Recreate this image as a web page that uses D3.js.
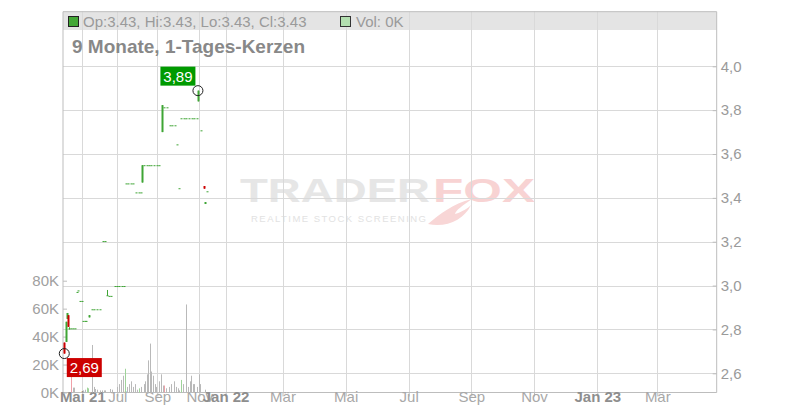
<!DOCTYPE html>
<html><head><meta charset="utf-8">
<script src="https://cdn.jsdelivr.net/npm/d3@7"></script>
<style>
html,body{margin:0;padding:0;background:#fff;}
svg{display:block;font-family:"Liberation Sans",Arial,sans-serif;}
</style>
</head><body>
<svg id="chart" width="800" height="420"></svg>
<script>
// ---------- data ----------
const candleDates = ["2021-04-03","2021-04-05","2021-04-07","2021-04-09","2021-04-11","2021-04-13","2021-04-16","2021-04-20",
  "2021-04-23","2021-04-25","2021-04-27","2021-04-30","2021-05-03","2021-05-05","2021-05-07","2021-05-12",
  "2021-05-18","2021-05-22","2021-05-27","2021-05-31","2021-06-06","2021-06-09","2021-06-13","2021-06-17","2021-06-20",
  "2021-06-27","2021-07-01","2021-07-04","2021-07-08","2021-07-11","2021-07-14","2021-07-18","2021-07-22","2021-07-26",
  "2021-07-30","2021-08-03","2021-08-06","2021-08-09","2021-08-12","2021-08-16","2021-08-19","2021-08-23","2021-08-27",
  "2021-08-31","2021-09-04","2021-09-08","2021-09-11","2021-09-15","2021-09-19","2021-09-23","2021-09-27","2021-09-29",
  "2021-10-02","2021-10-06","2021-10-10","2021-10-13","2021-10-17","2021-10-21","2021-10-24","2021-10-28","2021-10-30",
  "2021-11-06","2021-11-12","2021-11-15","2021-11-19"];
const opens  = [2.74,2.743,2.848,2.865,2.80,2.805,2.805,2.805, 2.971,2.978,2.93,2.93,2.839,2.839,2.839,2.855,
  2.892,2.892,2.892,2.892,3.203,3.203,2.953,2.953,2.953, 2.998,2.998,2.998,2.998,2.998,3.466,3.466,3.466,3.466,
  3.425,3.425,3.425,3.47,3.549,3.549,3.549,3.549,3.549, 3.549,3.549,3.70,3.813,3.813,3.731,3.731,3.731,3.644,
  3.444,3.763,3.763,3.763,3.763,3.763,3.763,3.763,3.84, 3.708,3.454,3.372,3.43];
const highs  = [2.74,2.835,2.875,2.865,2.81,2.805,2.805,2.805, 2.971,2.978,2.93,2.93,2.839,2.839,2.839,2.865,
  2.892,2.892,2.892,2.892,3.203,3.203,2.98,2.953,2.953, 2.998,2.998,2.998,2.998,2.998,3.466,3.466,3.466,3.466,
  3.425,3.425,3.425,3.549,3.549,3.549,3.549,3.549,3.549, 3.549,3.549,3.823,3.813,3.813,3.731,3.731,3.731,3.644,
  3.444,3.763,3.763,3.763,3.763,3.763,3.763,3.763,3.889, 3.708,3.454,3.381,3.43];
const lows   = [2.69,2.743,2.848,2.812,2.80,2.805,2.805,2.805, 2.971,2.978,2.93,2.93,2.839,2.839,2.839,2.855,
  2.892,2.892,2.892,2.892,3.203,3.203,2.953,2.953,2.953, 2.998,2.998,2.998,2.998,2.998,3.466,3.466,3.466,3.466,
  3.425,3.425,3.425,3.47,3.549,3.549,3.549,3.549,3.549, 3.549,3.549,3.70,3.813,3.813,3.731,3.731,3.731,3.644,
  3.444,3.763,3.763,3.763,3.763,3.763,3.763,3.763,3.84, 3.708,3.442,3.372,3.43];
const closes = [2.69,2.835,2.875,2.812,2.805,2.805,2.805,2.805, 2.971,2.978,2.93,2.93,2.839,2.839,2.839,2.865,
  2.892,2.892,2.892,2.892,3.203,3.203,2.956,2.953,2.953, 2.998,2.998,2.998,2.998,2.998,3.466,3.466,3.466,3.466,
  3.425,3.425,3.425,3.549,3.549,3.549,3.549,3.549,3.549, 3.549,3.549,3.823,3.813,3.813,3.731,3.731,3.731,3.644,
  3.444,3.763,3.763,3.763,3.763,3.763,3.763,3.763,3.889, 3.708,3.442,3.381,3.43];

const volDates = ["2021-04-13","2021-04-16","2021-04-18","2021-05-02","2021-05-05","2021-05-09","2021-05-11","2021-05-18",
  "2021-05-21","2021-05-24","2021-05-27","2021-05-31","2021-06-04","2021-06-07","2021-06-10","2021-06-19","2021-06-22",
  "2021-06-30","2021-07-04","2021-07-07","2021-07-10","2021-07-13","2021-07-16","2021-07-19","2021-07-22","2021-07-25",
  "2021-07-28","2021-08-01","2021-08-04","2021-08-07","2021-08-11","2021-08-13","2021-08-16","2021-08-18","2021-08-20",
  "2021-08-22","2021-08-25","2021-08-28","2021-08-30","2021-09-03","2021-09-06","2021-09-09","2021-09-11","2021-09-14",
  "2021-09-18","2021-09-21","2021-09-25","2021-09-28","2021-10-01","2021-10-03","2021-10-06","2021-10-09","2021-10-12",
  "2021-10-15","2021-10-18","2021-10-20","2021-10-23","2021-10-25","2021-10-28","2021-10-31","2021-11-03","2021-11-14"];
const volValues = [14,3.5,3.5,1.5,2,3.5,3,34, 4,2.5,2,1.5,1.5,1.5,1.5,2.5,2, 4,6,9,12,17,4,6,8,4, 6,2,3,4,6,8,13,23,35,
  15,12,6,4,8,13,5,5,3, 4,6,8,4,3,1.5,9,6,63, 4,8,12,6,6,4,13,6,2];
const volDir = ["d","n","n","n","n","u","u","n", "n","n","n","n","n","n","n","n","n", "n","n","n","n","u","n","n","n","n",
  "n","n","u","n","n","n","n","n","n", "n","n","n","n","n","n","n","d","n", "n","n","n","n","n","n","u","n","n",
  "n","n","n","n","n","n","n","n","n"];

const monthTickDates = ["2021-05-01","2021-07-01","2021-09-01","2021-11-01","2022-01-01","2022-03-01","2022-05-01",
  "2022-07-01","2022-09-01","2022-11-01","2023-01-01","2023-03-01"];
const monthTickLabels = ["Mai 21","Jul","Sep","Nov","Jan 22","Mär","Mai","Jul","Sep","Nov","Jan 23","Mär"];
const monthTickBold = [true,false,false,false,true,false,false,false,false,false,true,false];

const priceTicks = [2.6,2.8,3.0,3.2,3.4,3.6,3.8,4.0];
const priceTickLabels = ["2,6","2,8","3,0","3,2","3,4","3,6","3,8","4,0"];
const volTicks = [0,20,40,60,80];
const volTickLabels = ["0K","20K","40K","60K","80K"];

const legendOHLC = "Op:3.43, Hi:3.43, Lo:3.43, Cl:3.43";
const legendVol = "Vol: 0K";
const titleText = "9 Monate, 1-Tages-Kerzen";
const markerDates = ["2021-10-30","2021-04-03"];
const markerValues = [3.889,2.69];
const markerLabels = ["3,89","2,69"];
const markerKinds = ["high","low"];

// ---------- layout ----------
const L = 63, R = 716.7, T = 11.7, B = 392.5;
const parse = d3.timeParse("%Y-%m-%d");
// trading-day based axis: piecewise time scale through the month gridlines
const xDomain = ["2021-04-01"].concat(monthTickDates, ["2023-04-30"]).map(parse);
const xRange = [L,82.3,117.3,157.3,199.3,225.6,282.5,345.7,408.7,471.3,534,597.3,657.3,R];
const x = d3.scaleTime().domain(xDomain).range(xRange);
const y = d3.scaleLinear().domain([2.6,4.0]).range([373.3,66.3]);
const yv = d3.scaleLinear().domain([0,80]).range([B,280.7]);

const GREEN = "#3fa535", RED = "#cc0000";
const svg = d3.select("#chart");

// watermark
const wm = svg.append("g");
wm.append("text").attr("x",240).attr("y",202).attr("font-size",34).attr("font-weight","bold")
  .attr("fill","#e6e6e6").attr("textLength",190).attr("lengthAdjust","spacingAndGlyphs").text("TRADER");
wm.append("text").attr("x",433).attr("y",202).attr("font-size",34).attr("font-weight","bold")
  .attr("fill","#f8d3d3").attr("textLength",102).attr("lengthAdjust","spacingAndGlyphs").text("FOX");
wm.append("text").attr("x",251).attr("y",222).attr("font-size",9.5)
  .attr("fill","#e2e2e2").attr("textLength",175).attr("lengthAdjust","spacing").text("REALTIME STOCK SCREENING");
wm.append("path").attr("d","M428,224 C440,214 452,204 472,199 C462,206 456,210 455,214 C462,212 468,208 471,205 C464,220 446,228 428,224 Z")
  .attr("fill","#f8d6d6");

// legend bar
svg.append("rect").attr("x",L).attr("y",T).attr("width",R-L).attr("height",30-T).attr("fill","#e4e4e4");

// grid
const mt = monthTickDates.map(parse);
svg.append("g").selectAll("line").data(mt).join("line")
  .attr("x1",d=>Math.round(x(d))+0.5).attr("x2",d=>Math.round(x(d))+0.5).attr("y1",T).attr("y2",B)
  .attr("stroke","#d9d9d9").attr("stroke-width",1);
svg.append("g").selectAll("line").data(priceTicks).join("line")
  .attr("x1",L).attr("x2",R).attr("y1",d=>Math.round(y(d))+0.5).attr("y2",d=>Math.round(y(d))+0.5)
  .attr("stroke","#d9d9d9").attr("stroke-width",1);

// frame
svg.append("line").attr("x1",L).attr("x2",R).attr("y1",T).attr("y2",T).attr("stroke","#bdbdbd");
svg.append("line").attr("x1",L).attr("x2",R).attr("y1",B).attr("y2",B).attr("stroke","#bdbdbd");
svg.append("line").attr("x1",L).attr("x2",L).attr("y1",T).attr("y2",B).attr("stroke","#bdbdbd");
svg.append("line").attr("x1",R).attr("x2",R).attr("y1",T).attr("y2",B).attr("stroke","#bdbdbd");

// axes
const xAxis = d3.axisBottom(x).tickValues(mt).tickSize(4).tickFormat((d,i)=>monthTickLabels[i]);
const gx = svg.append("g").attr("transform",`translate(0,${B})`).call(xAxis);
gx.select(".domain").remove();
gx.selectAll(".tick line").attr("stroke","#bdbdbd");
gx.selectAll(".tick text").attr("font-size",15).attr("dy","0.1em").attr("y",8)
  .attr("font-family","'Liberation Sans',Arial,sans-serif")
  .attr("font-weight",(d,i)=>monthTickBold[i]?"bold":"normal")
  .attr("fill",(d,i)=>monthTickBold[i]?"#8e8e8e":"#a8a8a8");

const yAxis = d3.axisRight(y).tickValues(priceTicks).tickSize(-4).tickPadding(4).tickFormat((d,i)=>priceTickLabels[i]);
const gy = svg.append("g").attr("transform",`translate(${R},0)`).call(yAxis);
gy.select(".domain").remove();
gy.selectAll(".tick line").attr("stroke","#bdbdbd");
gy.selectAll(".tick text").attr("font-size",15).attr("fill","#9a9a9a")
  .attr("font-family","'Liberation Sans',Arial,sans-serif");

const vAxis = d3.axisLeft(yv).tickValues(volTicks).tickSize(-4).tickPadding(4).tickFormat((d,i)=>volTickLabels[i]);
const gv = svg.append("g").attr("transform",`translate(${L},0)`).call(vAxis);
gv.select(".domain").remove();
gv.selectAll(".tick line").attr("stroke","#bdbdbd");
gv.selectAll(".tick text").attr("font-size",15).attr("fill","#a0a0a0")
  .attr("font-family","'Liberation Sans',Arial,sans-serif");

// volume bars
const vols = volDates.map((d,i)=>({date:parse(d), v:volValues[i], dir:volDir[i]}));
svg.append("g").selectAll("rect").data(vols).join("rect")
  .attr("x",d=>Math.round(x(d.date))).attr("width",1)
  .attr("y",d=>yv(d.v)).attr("height",d=>B-yv(d.v))
  .attr("fill",d=>d.dir==="u"?"#9fd49a":d.dir==="d"?"#f0a0a8":"#b9b9b9");

// candles
const candles = candleDates.map((d,i)=>({date:parse(d),o:opens[i],h:highs[i],l:lows[i],c:closes[i]}));
const cg = svg.append("g");
cg.selectAll("line").data(candles).join("line")
  .attr("x1",d=>Math.round(x(d.date))+0.5).attr("x2",d=>Math.round(x(d.date))+0.5)
  .attr("y1",d=>y(d.h)).attr("y2",d=>y(d.l))
  .attr("stroke",d=>d.c>=d.o?GREEN:RED).attr("stroke-width",1);
cg.selectAll("rect").data(candles).join("rect")
  .attr("x",d=>Math.round(x(d.date))-0.5).attr("width",2)
  .attr("y",d=>Math.min(y(d.o),y(d.c))).attr("height",d=>Math.max(1,Math.abs(y(d.o)-y(d.c))))
  .attr("fill",d=>d.c>=d.o?GREEN:RED);

// markers
const markers = markerDates.map((d,i)=>({date:parse(d),v:markerValues[i],label:markerLabels[i],kind:markerKinds[i]}));
const mg = svg.append("g").selectAll("g").data(markers).join("g");
mg.append("circle").attr("cx",d=>x(d.date)).attr("cy",d=>y(d.v)).attr("r",5)
  .attr("fill","none").attr("stroke","#222").attr("stroke-width",1);
mg.append("rect")
  .attr("x",d=>d.kind==="high"?x(d.date)-37.5:x(d.date)+2.5)
  .attr("y",d=>d.kind==="high"?y(d.v)-24:y(d.v)+4.5)
  .attr("width",35).attr("height",19)
  .attr("fill",d=>d.kind==="high"?"#009a00":"#cc0000");
mg.append("text")
  .attr("x",d=>d.kind==="high"?x(d.date)-20:x(d.date)+20)
  .attr("y",d=>d.kind==="high"?y(d.v)-9:y(d.v)+19.5)
  .attr("text-anchor","middle").attr("font-size",15).attr("fill","#fff").text(d=>d.label);

// legend
svg.append("rect").attr("x",68.5).attr("y",16.5).attr("width",10).attr("height",10)
  .attr("fill","#43a736").attr("stroke","#222");
svg.append("text").attr("x",83).attr("y",26.7).attr("font-size",15).attr("fill","#9a9a9a").text(legendOHLC);
svg.append("rect").attr("x",340.5).attr("y",16.5).attr("width",10).attr("height",10)
  .attr("fill","#b3dfb0").attr("stroke","#333");
svg.append("text").attr("x",356).attr("y",26.7).attr("font-size",15).attr("fill","#9a9a9a").text(legendVol);

// title
svg.append("text").attr("x",72).attr("y",53.3).attr("font-size",19).attr("font-weight","bold")
  .attr("fill","#888").text(titleText);
</script>
</body></html>
